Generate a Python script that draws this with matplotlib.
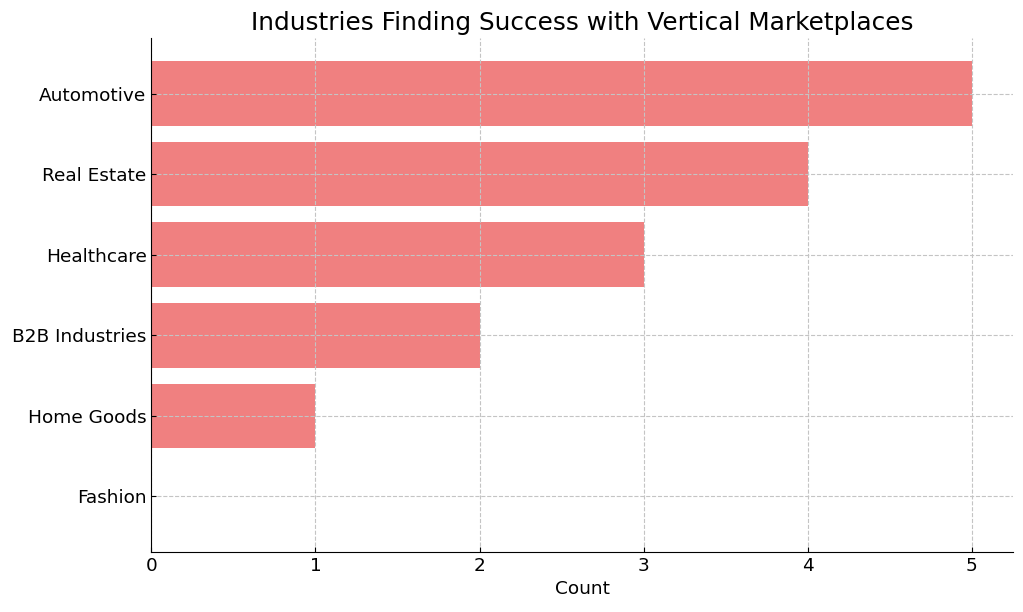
import matplotlib
matplotlib.use("Agg")
import matplotlib.pyplot as plt

industries = ["Fashion", "Home Goods", "B2B Industries", "Healthcare", "Real Estate", "Automotive"]
counts = [0, 1, 2, 3, 4, 5]

fig, ax = plt.subplots(figsize=(10.23, 6.12), dpi=100)
ax.barh(industries, counts, color="lightcoral", linewidth=0, height=0.8, zorder=1)
ax.grid(True, linestyle="--", color="#c4c4c4", linewidth=0.8, zorder=2)
ax.set_title("Industries Finding Success with Vertical Marketplaces", fontsize=17.8)
ax.set_xlabel("Count", fontsize=13.3)
ax.tick_params(axis="both", direction="in", labelsize=13.3)
ax.spines["top"].set_visible(False)
ax.spines["right"].set_visible(False)
fig.subplots_adjust(left=0.148, right=0.99, top=0.938, bottom=0.098)
fig.savefig("out.png", dpi=100)
